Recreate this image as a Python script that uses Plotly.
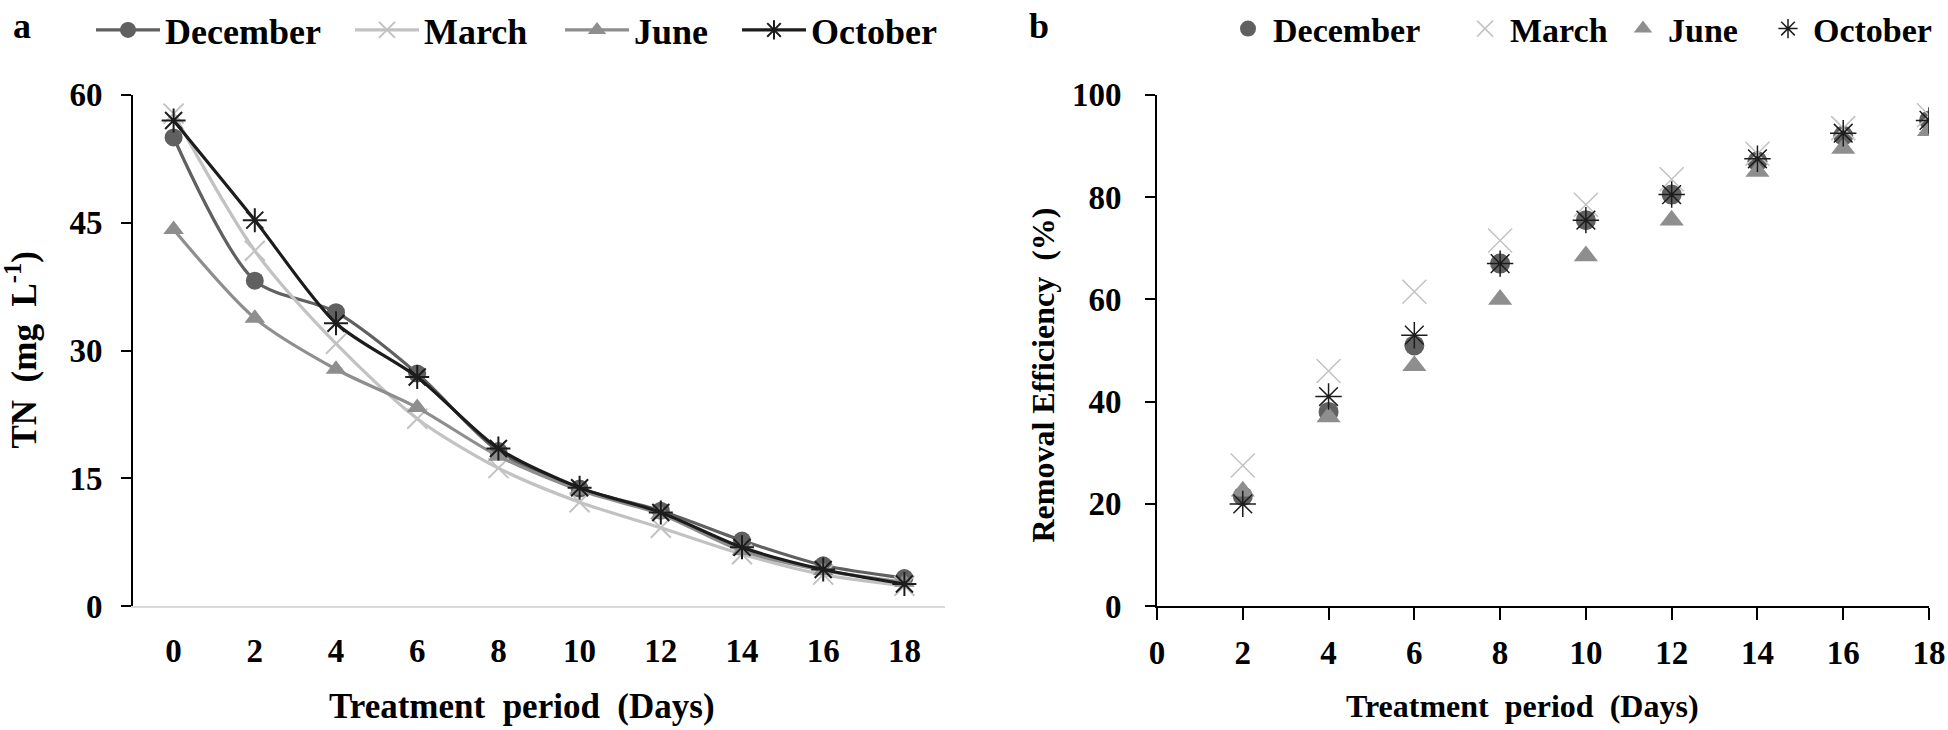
import plotly.graph_objects as go

days = [0, 2, 4, 6, 8, 10, 12, 14, 16, 18]
series = ["December", "March", "June", "October"]

# Panel a: TN (mg/L)
tn_december = [55.0, 38.2, 34.5, 27.3, 18.2, 13.8, 11.2, 7.7, 4.8, 3.3]
tn_march = [57.8, 41.7, 30.8, 22.0, 16.2, 12.2, 9.2, 6.1, 3.7, 2.4]
tn_june = [44.2, 33.8, 27.8, 23.3, 17.6, 13.6, 10.8, 6.5, 4.2, 2.8]
tn_october = [57.0, 45.3, 33.2, 26.9, 18.5, 13.9, 11.0, 6.9, 4.3, 2.6]

# Panel b: removal efficiency (%)
re_days = [2, 4, 6, 8, 10, 12, 14, 16, 18]
re_december = [21.5, 38.0, 51.0, 67.0, 75.5, 80.5, 87.0, 92.0, 95.0]
re_march = [27.5, 46.0, 61.5, 71.5, 78.5, 83.5, 88.5, 93.5, 96.0]
re_june = [22.5, 37.0, 47.0, 60.0, 68.5, 75.5, 85.0, 89.5, 93.0]
re_october = [20.0, 41.0, 53.0, 67.0, 75.5, 80.5, 87.5, 92.5, 95.0]

colors = {"December": "#606060", "March": "#c2c2c2", "June": "#8e8e8e", "October": "#1c1c1c"}
symbols = {"December": "circle", "March": "x-thin-open", "June": "triangle-up", "October": "asterisk-open"}

tn = {"December": tn_december, "March": tn_march, "June": tn_june, "October": tn_october}
re = {"December": re_december, "March": re_march, "June": re_june, "October": re_october}

W, H = 1948, 730
FONT = "Liberation Serif"
BOLD = "bold"

# legend anchor positions (px from left) for each entry
leg_a_x = {"December": 91, "March": 350, "June": 560, "October": 737}
leg_b_x = {"December": 1223, "March": 1460, "June": 1618, "October": 1763}
LEG_Y = 1 - 29 / H

fig = go.Figure()

size_a = {"December": 18, "March": 20, "June": 18, "October": 20}
for i, s in enumerate(series):
    open_sym = s in ("March", "October")
    fig.add_trace(go.Scatter(
        x=days, y=tn[s], name=s, mode="lines+markers",
        line=dict(color=colors[s], width=3.2, shape="spline", smoothing=0.8),
        marker=dict(symbol=symbols[s], size=size_a[s], color=colors[s],
                    line=dict(color=colors[s], width=2 if open_sym else 0)),
        xaxis="x", yaxis="y", showlegend=True,
        legend="legend" if i == 0 else f"legend{i + 1}",
    ))

size_b = {"December": 20, "March": 24, "June": 21, "October": 22}
for i, s in enumerate(series):
    open_sym = s in ("March", "October")
    fig.add_trace(go.Scatter(
        x=re_days, y=re[s], name=s, mode="markers",
        marker=dict(symbol=symbols[s], size=size_b[s], color=colors[s],
                    line=dict(color=colors[s], width=1.5 if open_sym else 0)),
        xaxis="x2", yaxis="y2", showlegend=True, legend=f"legend{i + 5}",
    ))

ydom = [(H - 606) / H, (H - 94) / H]
tickfont = dict(family=FONT, size=33, color="black", weight=BOLD)

axis_common = dict(showgrid=False, zeroline=False, showline=True, linewidth=2,
                   tickfont=tickfont, automargin=False)

legends = {}
for i, s in enumerate(series):
    key = "legend" if i == 0 else f"legend{i + 1}"
    legends[key] = dict(orientation="h", x=leg_a_x[s] / W, y=LEG_Y, xanchor="left", yanchor="middle",
                        font=dict(family=FONT, size=36, color="black", weight=BOLD),
                        itemwidth=64, bgcolor="rgba(0,0,0,0)", visible=True)
    legends[f"legend{i + 5}"] = dict(orientation="h", x=leg_b_x[s] / W, y=LEG_Y, xanchor="left",
                                     yanchor="middle",
                                     font=dict(family=FONT, size=34, color="black", weight=BOLD),
                                     itemwidth=40, bgcolor="rgba(0,0,0,0)", visible=True)

fig.update_layout(
    width=W, height=H,
    showlegend=True,
    margin=dict(l=0, r=0, t=0, b=0),
    paper_bgcolor="white", plot_bgcolor="white",
    font=dict(family=FONT, size=30, color="black", weight=BOLD),
    xaxis=dict(domain=[133 / W, 945 / W], range=[-1, 19], tickvals=days,
               linecolor="#d9d9d9", ticks="", ticklabelstandoff=14, **axis_common),
    yaxis=dict(domain=ydom, range=[0, 60], tickvals=[0, 15, 30, 45, 60],
               linecolor="black", ticks="outside", ticklen=10, tickwidth=2, tickcolor="black",
               ticklabelstandoff=12, **axis_common),
    xaxis2=dict(domain=[1157 / W, 1929 / W], range=[0, 18], tickvals=list(range(0, 19, 2)),
                linecolor="black", ticks="outside", ticklen=12, tickwidth=2, tickcolor="black",
                ticklabelstandoff=4, anchor="y2", **axis_common),
    yaxis2=dict(domain=ydom, range=[0, 100], tickvals=[0, 20, 40, 60, 80, 100],
                linecolor="black", ticks="outside", ticklen=10, tickwidth=2, tickcolor="black",
                ticklabelstandoff=17, anchor="x2", **axis_common),
    **legends,
    annotations=[
        dict(text="a", x=22 / W, y=1 - 25 / H, xref="paper", yref="paper", showarrow=False,
             xanchor="center", yanchor="middle", font=dict(family=FONT, size=36, color="black", weight=BOLD)),
        dict(text="b", x=1039 / W, y=1 - 25 / H, xref="paper", yref="paper", showarrow=False,
             xanchor="center", yanchor="middle", font=dict(family=FONT, size=36, color="black", weight=BOLD)),
        dict(text="Treatment  period  (Days)", x=522 / W, y=1 - 706 / H, xref="paper", yref="paper",
             showarrow=False, xanchor="center", yanchor="middle",
             font=dict(family=FONT, size=35, color="black", weight=BOLD)),
        dict(text="Treatment  period  (Days)", x=1522 / W, y=1 - 706 / H, xref="paper", yref="paper",
             showarrow=False, xanchor="center", yanchor="middle",
             font=dict(family=FONT, size=32, color="black", weight=BOLD)),
        dict(text="TN  (mg  L<sup>-1</sup>)", x=22 / W, y=1 - 350 / H, xref="paper", yref="paper",
             showarrow=False, xanchor="center", yanchor="middle", textangle=-90,
             font=dict(family=FONT, size=35, color="black", weight=BOLD)),
        dict(text="Removal Efficiency  (%)", x=1043 / W, y=1 - 375 / H, xref="paper", yref="paper",
             showarrow=False, xanchor="center", yanchor="middle", textangle=-90,
             font=dict(family=FONT, size=32, color="black", weight=BOLD)),
    ],
)

# remove the browser's default 8px body margin so the figure fills the window
fig.write_html("out.html", config={"displayModeBar": False},
               post_script="document.body.style.margin='0';")
